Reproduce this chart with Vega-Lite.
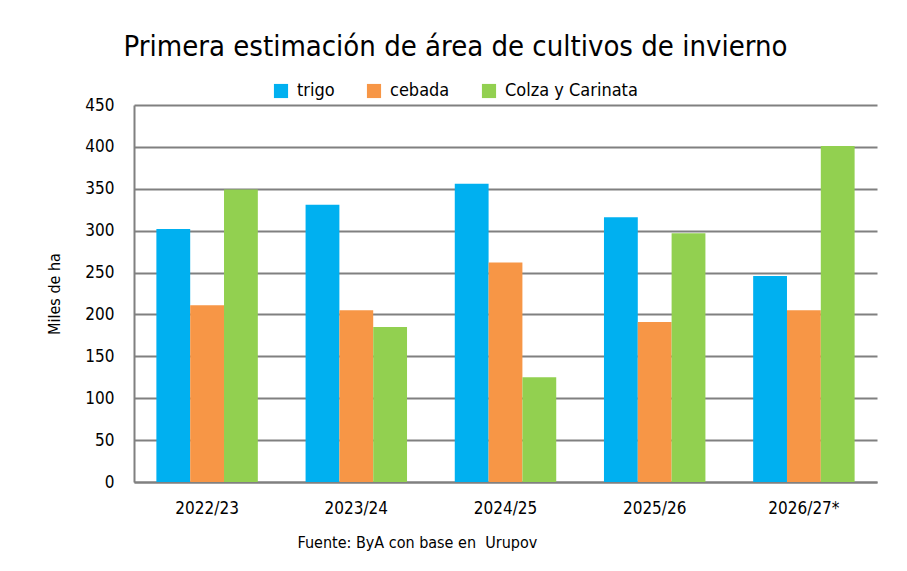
{
  "$schema": "https://vega.github.io/schema/vega-lite/v6.json",
  "width": 743,
  "height": 377,
  "autosize": {"type": "none"},
  "padding": {"left": 134, "top": 105, "right": 30, "bottom": 89},
  "background": "white",
  "title": {
    "text": "Primera estimación de área de cultivos de invierno",
    "fontSize": 29,
    "fontWeight": "normal",
    "color": "black",
    "anchor": "middle",
    "dx": -50,
    "offset": 20
  },
  "data": {
    "values": [
      {"campana": "2022/23", "cultivo": "trigo", "area": 302},
      {"campana": "2022/23", "cultivo": "cebada", "area": 211},
      {"campana": "2022/23", "cultivo": "Colza y Carinata", "area": 349},
      {"campana": "2023/24", "cultivo": "trigo", "area": 331},
      {"campana": "2023/24", "cultivo": "cebada", "area": 205},
      {"campana": "2023/24", "cultivo": "Colza y Carinata", "area": 185},
      {"campana": "2024/25", "cultivo": "trigo", "area": 356},
      {"campana": "2024/25", "cultivo": "cebada", "area": 262},
      {"campana": "2024/25", "cultivo": "Colza y Carinata", "area": 125},
      {"campana": "2025/26", "cultivo": "trigo", "area": 316},
      {"campana": "2025/26", "cultivo": "cebada", "area": 191},
      {"campana": "2025/26", "cultivo": "Colza y Carinata", "area": 297},
      {"campana": "2026/27*", "cultivo": "trigo", "area": 246},
      {"campana": "2026/27*", "cultivo": "cebada", "area": 205},
      {"campana": "2026/27*", "cultivo": "Colza y Carinata", "area": 401}
    ]
  },
  "mark": {"type": "bar"},
  "encoding": {
    "x": {
      "field": "campana",
      "type": "nominal",
      "sort": null,
      "scale": {"paddingInner": 0.32, "paddingOuter": 0.15},
      "axis": {
        "title": "Fuente: ByA con base en\u00a0 Urupov",
        "titleFontSize": 16,
        "titleFontWeight": "normal",
        "titleColor": "black",
        "titleAnchor": "start",
        "titleAlign": "left",
        "titleX": 163,
        "titlePadding": 18,
        "labelAngle": 0,
        "labelFontSize": 17,
        "labelColor": "black",
        "labelPadding": 18,
        "ticks": false,
        "domainColor": "#808080",
        "domainWidth": 2
      }
    },
    "xOffset": {
      "field": "cultivo",
      "type": "nominal",
      "sort": ["trigo", "cebada", "Colza y Carinata"],
      "scale": {"paddingInner": 0, "paddingOuter": 0}
    },
    "y": {
      "field": "area",
      "type": "quantitative",
      "scale": {"domain": [0, 450]},
      "axis": {
        "title": "Miles de ha",
        "titleFontSize": 16,
        "titleFontWeight": "normal",
        "titleColor": "black",
        "titlePadding": 22,
        "values": [0, 50, 100, 150, 200, 250, 300, 350, 400, 450],
        "labelFontSize": 17,
        "labelColor": "black",
        "labelPadding": 20,
        "ticks": false,
        "domainColor": "#808080",
        "domainWidth": 2,
        "gridColor": "#808080",
        "gridWidth": 2
      }
    },
    "color": {
      "field": "cultivo",
      "type": "nominal",
      "sort": ["trigo", "cebada", "Colza y Carinata"],
      "scale": {
        "domain": ["trigo", "cebada", "Colza y Carinata"],
        "range": ["#00B0F0", "#F79646", "#92D050"]
      },
      "legend": {
        "title": null,
        "orient": "none",
        "direction": "horizontal",
        "legendX": 138,
        "legendY": -23,
        "symbolType": "square",
        "symbolSize": 200,
        "symbolStrokeWidth": 0,
        "labelFontSize": 18,
        "labelColor": "black",
        "columnPadding": 30,
        "labelOffset": 7
      }
    }
  },
  "config": {
    "font": "Liberation Sans Narrow, DejaVu Sans Condensed, Lato, sans-serif",
    "view": {"stroke": null}
  }
}
